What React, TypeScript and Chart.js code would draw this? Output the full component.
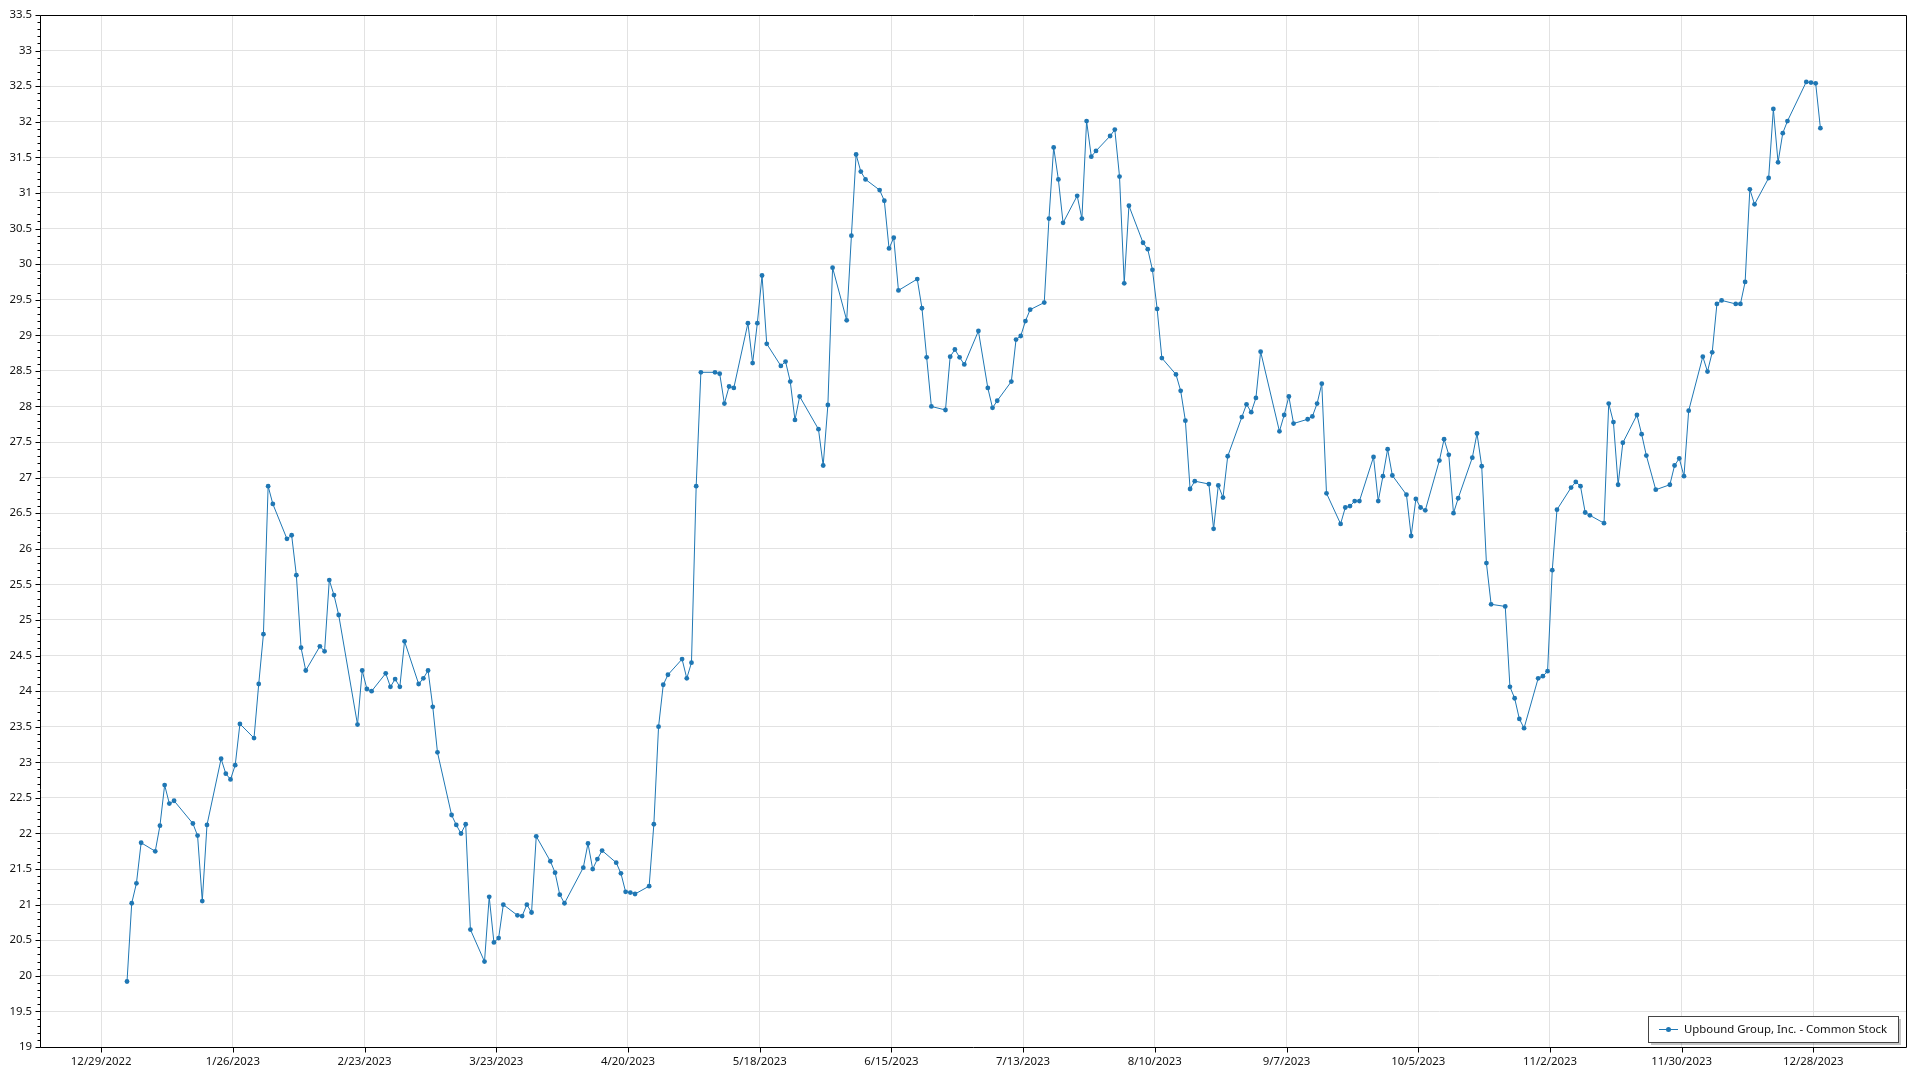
import React, { useEffect, useRef } from "react";
import { Chart, registerables } from "chart.js";

Chart.register(...registerables);

const seriesName = "Upbound Group, Inc. - Common Stock";

// Trading sessions (each quote stamped at 12:00 of its day)
const dates: string[] = [
  "2023-01-03","2023-01-04","2023-01-05","2023-01-06","2023-01-09","2023-01-10","2023-01-11","2023-01-12","2023-01-13","2023-01-17",
  "2023-01-18","2023-01-19","2023-01-20","2023-01-23","2023-01-24","2023-01-25","2023-01-26","2023-01-27","2023-01-30","2023-01-31",
  "2023-02-01","2023-02-02","2023-02-03","2023-02-06","2023-02-07","2023-02-08","2023-02-09","2023-02-10","2023-02-13","2023-02-14",
  "2023-02-15","2023-02-16","2023-02-17","2023-02-21","2023-02-22","2023-02-23","2023-02-24","2023-02-27","2023-02-28",
  "2023-03-01","2023-03-02","2023-03-03","2023-03-06","2023-03-07","2023-03-08","2023-03-09","2023-03-10","2023-03-13","2023-03-14",
  "2023-03-15","2023-03-16","2023-03-17","2023-03-20","2023-03-21","2023-03-22","2023-03-23","2023-03-24","2023-03-27","2023-03-28",
  "2023-03-29","2023-03-30","2023-03-31",
  "2023-04-03","2023-04-04","2023-04-05","2023-04-06","2023-04-10","2023-04-11","2023-04-12","2023-04-13","2023-04-14","2023-04-17",
  "2023-04-18","2023-04-19","2023-04-20","2023-04-21","2023-04-24","2023-04-25","2023-04-26","2023-04-27","2023-04-28",
  "2023-05-01","2023-05-02","2023-05-03","2023-05-04","2023-05-05","2023-05-08","2023-05-09","2023-05-10","2023-05-11","2023-05-12",
  "2023-05-15","2023-05-16","2023-05-17","2023-05-18","2023-05-19","2023-05-22","2023-05-23","2023-05-24","2023-05-25","2023-05-26",
  "2023-05-30","2023-05-31",
  "2023-06-01","2023-06-02","2023-06-05","2023-06-06","2023-06-07","2023-06-08","2023-06-09","2023-06-12","2023-06-13","2023-06-14",
  "2023-06-15","2023-06-16","2023-06-20","2023-06-21","2023-06-22","2023-06-23","2023-06-26","2023-06-27","2023-06-28","2023-06-29",
  "2023-06-30",
  "2023-07-03","2023-07-05","2023-07-06","2023-07-07","2023-07-10","2023-07-11","2023-07-12","2023-07-13","2023-07-14","2023-07-17",
  "2023-07-18","2023-07-19","2023-07-20","2023-07-21","2023-07-24","2023-07-25","2023-07-26","2023-07-27","2023-07-28","2023-07-31",
  "2023-08-01","2023-08-02","2023-08-03","2023-08-04","2023-08-07","2023-08-08","2023-08-09","2023-08-10","2023-08-11","2023-08-14",
  "2023-08-15","2023-08-16","2023-08-17","2023-08-18","2023-08-21","2023-08-22","2023-08-23","2023-08-24","2023-08-25","2023-08-28",
  "2023-08-29","2023-08-30","2023-08-31",
  "2023-09-01","2023-09-05","2023-09-06","2023-09-07","2023-09-08","2023-09-11","2023-09-12","2023-09-13","2023-09-14","2023-09-15",
  "2023-09-18","2023-09-19","2023-09-20","2023-09-21","2023-09-22","2023-09-25","2023-09-26","2023-09-27","2023-09-28","2023-09-29",
  "2023-10-02","2023-10-03","2023-10-04","2023-10-05","2023-10-06","2023-10-09","2023-10-10","2023-10-11","2023-10-12","2023-10-13",
  "2023-10-16","2023-10-17","2023-10-18","2023-10-19","2023-10-20","2023-10-23","2023-10-24","2023-10-25","2023-10-26","2023-10-27",
  "2023-10-30","2023-10-31",
  "2023-11-01","2023-11-02","2023-11-03","2023-11-06","2023-11-07","2023-11-08","2023-11-09","2023-11-10","2023-11-13","2023-11-14",
  "2023-11-15","2023-11-16","2023-11-17","2023-11-20","2023-11-21","2023-11-22","2023-11-24","2023-11-27","2023-11-28","2023-11-29",
  "2023-11-30",
  "2023-12-01","2023-12-04","2023-12-05","2023-12-06","2023-12-07","2023-12-08","2023-12-11","2023-12-12","2023-12-13","2023-12-14",
  "2023-12-15","2023-12-18","2023-12-19","2023-12-20","2023-12-21","2023-12-22","2023-12-26","2023-12-27","2023-12-28","2023-12-29",
];

const prices: number[] = [
  19.92, 21.02, 21.30, 21.87, 21.75, 22.11, 22.68, 22.42, 22.46, 22.14,
  21.97, 21.05, 22.12, 23.05, 22.84, 22.76, 22.96, 23.54, 23.34, 24.10,
  24.80, 26.88, 26.63, 26.14, 26.19, 25.63, 24.61, 24.29, 24.63, 24.56,
  25.56, 25.35, 25.07, 23.53, 24.29, 24.03, 24.00, 24.25, 24.06,
  24.17, 24.06, 24.70, 24.10, 24.18, 24.29, 23.78, 23.14, 22.26, 22.12,
  22.00, 22.13, 20.65, 20.20, 21.11, 20.47, 20.53, 21.00, 20.85, 20.84,
  21.00, 20.89, 21.96,
  21.61, 21.45, 21.14, 21.02, 21.52, 21.86, 21.50, 21.64, 21.76, 21.59,
  21.44, 21.18, 21.17, 21.15, 21.26, 22.13, 23.50, 24.09, 24.23,
  24.45, 24.18, 24.40, 26.88, 28.48, 28.48, 28.46, 28.04, 28.28, 28.26,
  29.17, 28.61, 29.17, 29.84, 28.88, 28.57, 28.63, 28.35, 27.81, 28.14,
  27.68, 27.17,
  28.02, 29.95, 29.21, 30.40, 31.54, 31.30, 31.19, 31.04, 30.89, 30.22,
  30.37, 29.63, 29.79, 29.38, 28.69, 28.00, 27.95, 28.70, 28.80, 28.69,
  28.59,
  29.06, 28.26, 27.98, 28.08, 28.35, 28.94, 28.99, 29.20, 29.36, 29.46,
  30.64, 31.64, 31.19, 30.58, 30.96, 30.64, 32.01, 31.51, 31.59, 31.80,
  31.89, 31.23, 29.73, 30.82, 30.30, 30.21, 29.92, 29.37, 28.68, 28.45,
  28.22, 27.80, 26.84, 26.95, 26.91, 26.28, 26.89, 26.72, 27.30, 27.85,
  28.03, 27.92, 28.12,
  28.77, 27.65, 27.88, 28.14, 27.76, 27.82, 27.86, 28.04, 28.32, 26.78,
  26.35, 26.58, 26.60, 26.67, 26.67, 27.29, 26.67, 27.02, 27.40, 27.03,
  26.76, 26.18, 26.70, 26.58, 26.54, 27.24, 27.54, 27.32, 26.50, 26.71,
  27.28, 27.62, 27.16, 25.80, 25.22, 25.19, 24.06, 23.90, 23.61, 23.48,
  24.18, 24.21,
  24.28, 25.70, 26.55, 26.86, 26.94, 26.88, 26.51, 26.47, 26.36, 28.04,
  27.78, 26.90, 27.49, 27.88, 27.61, 27.31, 26.83, 26.90, 27.17, 27.27,
  27.02,
  27.94, 28.70, 28.49, 28.76, 29.44, 29.49, 29.44, 29.44, 29.75, 31.05,
  30.84, 31.21, 32.18, 31.43, 31.84, 32.01, 32.56, 32.55, 32.54, 31.91,
];

const xTickLabels: string[] = [
  "12/29/2022", "1/26/2023", "2/23/2023", "3/23/2023", "4/20/2023", "5/18/2023", "6/15/2023",
  "7/13/2023", "8/10/2023", "9/7/2023", "10/5/2023", "11/2/2023", "11/30/2023", "12/28/2023",
];

const X_MIN_DATE = "12/16/2022";
const X_MAX_DATE = "1/17/2024";
const QUOTE_HOUR = 12;
const Y_MIN = 19;
const Y_MAX = 33.5;
const Y_STEP = 0.5;
const Y_MINOR_STEP = 0.1;

const DAY_MS = 86400000;
const BASE = Date.UTC(2022, 11, 29);
const isoToDay = (s: string) => {
  const [y, m, d] = s.split("-").map(Number);
  return (Date.UTC(y, m - 1, d, QUOTE_HOUR) - BASE) / DAY_MS;
};
const mdyToDay = (s: string) => {
  const [m, d, y] = s.split("/").map(Number);
  return (Date.UTC(y, m - 1, d) - BASE) / DAY_MS;
};
const dayToLabel = (v: number) => {
  const dt = new Date(BASE + Math.round(v) * DAY_MS);
  return `${dt.getUTCMonth() + 1}/${dt.getUTCDate()}/${dt.getUTCFullYear()}`;
};

const FONT = '"Noto Sans", "Open Sans", sans-serif';
const FONT_SIZE = 11.4;
const LINE_COLOR = "#1f77b4";
const GRID_COLOR = "#e2e2e2";
const TEXT_COLOR = "#111111";

const framePlugin = {
  id: "framePlugin",
  afterDraw(chart: any) {
    const { ctx, chartArea: a, scales } = chart;
    ctx.save();
    ctx.strokeStyle = "#000";
    ctx.lineWidth = 1;
    const L = Math.round(a.left) + 0.5;
    const T = Math.round(a.top) + 0.5;
    const R = Math.round(a.right) + 0.5;
    const B = Math.round(a.bottom) + 0.5;
    ctx.beginPath();
    ctx.rect(L, T, R - L, B - T);
    ctx.stroke();

    // y ticks (major + minor)
    const ys = scales.y;
    const n = Math.round((Y_MAX - Y_MIN) / Y_MINOR_STEP);
    const per = Math.round(Y_STEP / Y_MINOR_STEP);
    ctx.beginPath();
    for (let i = 0; i <= n; i++) {
      const v = Y_MIN + i * Y_MINOR_STEP;
      const y = Math.round(ys.getPixelForValue(v)) + 0.5;
      const len = i % per === 0 ? 5 : 3;
      ctx.moveTo(L - len, y);
      ctx.lineTo(L, y);
    }
    // x ticks
    const xs = scales.x;
    xTickLabels.forEach((lab) => {
      const x = Math.round(xs.getPixelForValue(mdyToDay(lab))) + 0.5;
      ctx.moveTo(x, B);
      ctx.lineTo(x, B + 5);
    });
    ctx.stroke();

    // legend box (bottom-right inside plot area)
    ctx.font = `${FONT_SIZE}px ${FONT}`;
    const tw = ctx.measureText(seriesName).width;
    const boxH = 26;
    const boxW = Math.round(36 + tw + 11);
    const bx = Math.round(a.right - 8 - boxW);
    const by = Math.round(a.bottom - 5 - boxH);
    ctx.fillStyle = "rgba(0,0,0,0.22)";
    ctx.fillRect(bx + 3, by + 3, boxW, boxH);
    ctx.fillStyle = "#fff";
    ctx.fillRect(bx, by, boxW, boxH);
    ctx.strokeStyle = "#444";
    ctx.strokeRect(bx + 0.5, by + 0.5, boxW, boxH);
    const cy = by + boxH / 2 + 0.5;
    ctx.strokeStyle = LINE_COLOR;
    ctx.beginPath();
    ctx.moveTo(bx + 11, Math.floor(cy) + 0.5);
    ctx.lineTo(bx + 30, Math.floor(cy) + 0.5);
    ctx.stroke();
    ctx.fillStyle = LINE_COLOR;
    ctx.beginPath();
    ctx.arc(bx + 20.5, Math.floor(cy) + 0.5, 2.5, 0, Math.PI * 2);
    ctx.fill();
    ctx.fillStyle = TEXT_COLOR;
    ctx.textBaseline = "middle";
    ctx.textAlign = "left";
    ctx.fillText(seriesName, bx + 36, cy);
    ctx.restore();
  },
};

export default function App() {
  const canvasRef = useRef<HTMLCanvasElement | null>(null);

  useEffect(() => {
    const canvas = canvasRef.current;
    if (!canvas) return;
    const points = dates.map((d, i) => ({ x: isoToDay(d), y: prices[i] }));
    const chart = new Chart(canvas, {
      type: "line",
      data: {
        datasets: [
          {
            label: seriesName,
            data: points,
            borderColor: LINE_COLOR,
            backgroundColor: LINE_COLOR,
            borderWidth: 1,
            pointRadius: 2.4,
            pointBorderWidth: 0,
            pointBackgroundColor: LINE_COLOR,
            pointHoverRadius: 2.4,
            tension: 0,
            fill: false,
          },
        ],
      },
      options: {
        animation: false,
        responsive: false,
        devicePixelRatio: 1,
        events: [],
        layout: { padding: { top: 15, right: 14, bottom: 0, left: 0 } },
        plugins: {
          legend: { display: false },
          tooltip: { enabled: false },
          title: { display: false },
        },
        scales: {
          x: {
            type: "linear",
            min: mdyToDay(X_MIN_DATE),
            max: mdyToDay(X_MAX_DATE) - 0.3,
            afterBuildTicks: (scale: any) => {
              scale.ticks = xTickLabels.map((l) => ({ value: mdyToDay(l) }));
            },
            afterFit: (scale: any) => {
              scale.height = 33;
            },
            border: { display: false },
            grid: { color: GRID_COLOR, lineWidth: 1, drawTicks: false },
            ticks: {
              padding: 8,
              maxRotation: 0,
              autoSkip: false,
              color: TEXT_COLOR,
              font: { family: FONT, size: FONT_SIZE },
              callback: (v: any) => dayToLabel(Number(v)),
            },
          },
          y: {
            type: "linear",
            min: Y_MIN,
            max: Y_MAX,
            afterFit: (scale: any) => {
              scale.width = 40;
            },
            border: { display: false },
            grid: { color: GRID_COLOR, lineWidth: 1, drawTicks: false },
            ticks: {
              stepSize: Y_STEP,
              padding: 8,
              color: TEXT_COLOR,
              font: { family: FONT, size: FONT_SIZE },
              callback: (v: any) => String(Math.round(Number(v) * 10) / 10),
            },
          },
        },
      },
      plugins: [framePlugin],
    } as any);
    return () => chart.destroy();
  }, []);

  return (
    <div style={{ position: "fixed", left: 0, top: 0, width: 1920, height: 1080, background: "#fff", overflow: "hidden" }}>
      <canvas ref={canvasRef} width={1920} height={1080} style={{ display: "block", width: 1920, height: 1080 }} />
    </div>
  );
}
